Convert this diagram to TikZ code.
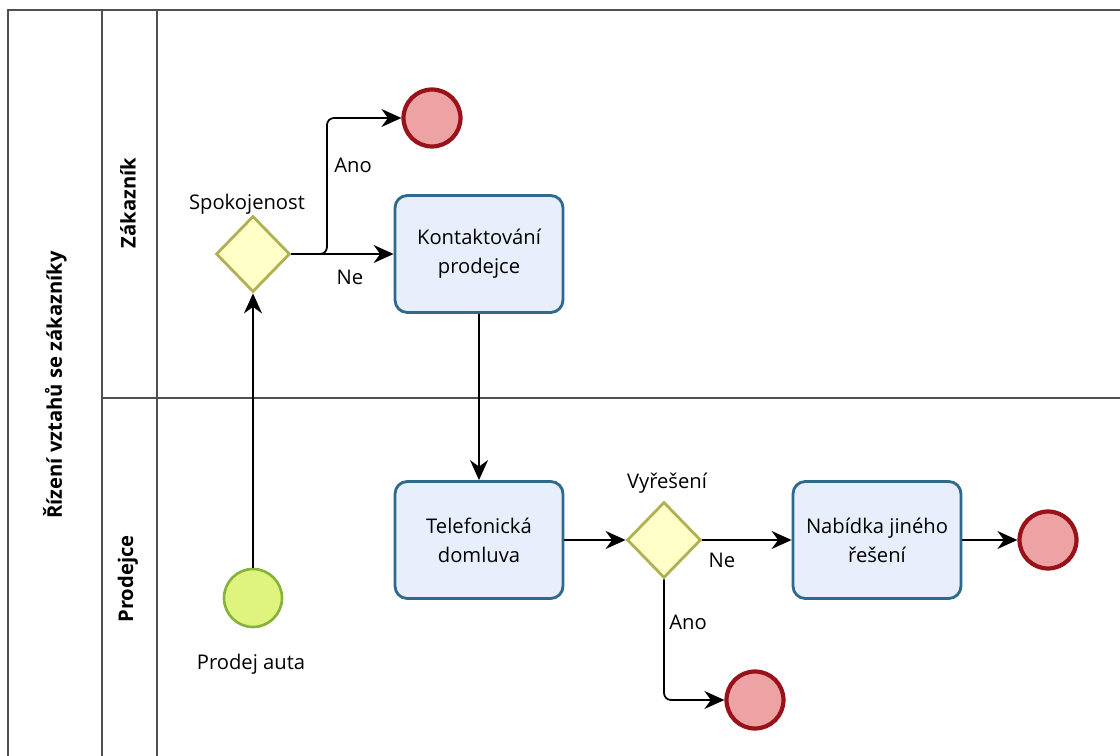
\documentclass[tikz,border=0pt]{standalone}
\usepackage{fontspec}
\setmainfont{Open Sans}
\usetikzlibrary{shapes.geometric,arrows.meta}

\definecolor{taskFill}{HTML}{E8EEFB}
\definecolor{taskLine}{HTML}{2E6A8E}
\definecolor{gateFill}{HTML}{FFFFC8}
\definecolor{gateLine}{HTML}{B0B055}
\definecolor{startFill}{HTML}{DFF47E}
\definecolor{startLine}{HTML}{86B23C}
\definecolor{endFill}{HTML}{EDA2A4}
\definecolor{endLine}{HTML}{9A1219}
\definecolor{poolLine}{HTML}{505050}

\begin{document}
\begin{tikzpicture}[x=0.02cm, y=-0.02cm,
    every node/.style={font=\fontsize{11.5}{16.5}\selectfont},
    task/.style={draw=taskLine, fill=taskFill, line width=1.6pt, rounded corners=7pt,
        minimum width=3.36cm, minimum height=2.34cm, align=center},
    gate/.style={diamond, draw=gateLine, fill=gateFill, line width=1.6pt,
        minimum width=1.48cm, minimum height=1.52cm, inner sep=0pt},
    startev/.style={circle, draw=startLine, fill=startFill, line width=1.5pt,
        minimum size=1.16cm, inner sep=0pt},
    endev/.style={circle, draw=endLine, fill=endFill, line width=2.4pt,
        minimum size=1.14cm, inner sep=0pt},
    flow/.style={->, >={Stealth[length=4mm,width=3.6mm,inset=1.3mm]}, line width=1pt, rounded corners=4pt},
    pool/.style={draw=poolLine, line width=1pt},
    lane/.style={font=\fontsize{11.5}{16}\selectfont\bfseries, rotate=90}]

    \useasboundingbox (0,0) rectangle (1120,756);

    % pool and lanes
    \draw[pool] (1120,10) -- (8,10) -- (8,756);
    \draw[pool] (102,10) -- (102,756);
    \draw[pool] (157,10) -- (157,756);
    \draw[pool] (102,398) -- (1120,398);
    \node[lane] (poolLbl) at (55,385) {Řízení vztahů se zákazníky};
    \node[lane] (laneZak) at (128,203) {Zákazník};
    \node[lane] (laneProd) at (128,579) {Prodejce};

    % zakaznik
    \node[gate] (spok) at (253,254) {};
    \node (spokLbl) at (247,204) {Spokojenost};
    \node[task] (kontakt) at (479,254) {Kontaktování\\prodejce};
    \node[endev] (endA) at (432,118) {};
    \coordinate (spokFork) at (327,254);

    % prodejce
    \node[startev] (start) at (253,598) {};
    \node (startLbl) at (251,664) {Prodej auta};
    \node[task] (telefon) at (479,540) {Telefonická\\domluva};
    \node[gate] (vyres) at (664,540) {};
    \node (vyresLbl) at (667,483) {Vyřešení};
    \node[task] (nabidka) at (877,540) {Nabídka jiného\\řešení};
    \node[endev] (endB) at (755,700) {};
    \node[endev] (endC) at (1048,540) {};

    % flows
    \draw[flow] (start) -- (spok);
    \draw[flow] (spok) -- (kontakt);
    \draw[flow] (spok.east) -- (spokFork) |- (endA);
    \draw[flow] (kontakt) -- (telefon);
    \draw[flow] (telefon) -- (vyres);
    \draw[flow] (vyres) -- (nabidka);
    \draw[flow] (vyres) |- (endB);
    \draw[flow] (nabidka) -- (endC);

    \node (spokAno) at (353,165) {Ano};
    \node (spokNe) at (350,277) {Ne};
    \node (vyresNe) at (722,560) {Ne};
    \node (vyresAno) at (688,622) {Ano};
\end{tikzpicture}
\end{document}
